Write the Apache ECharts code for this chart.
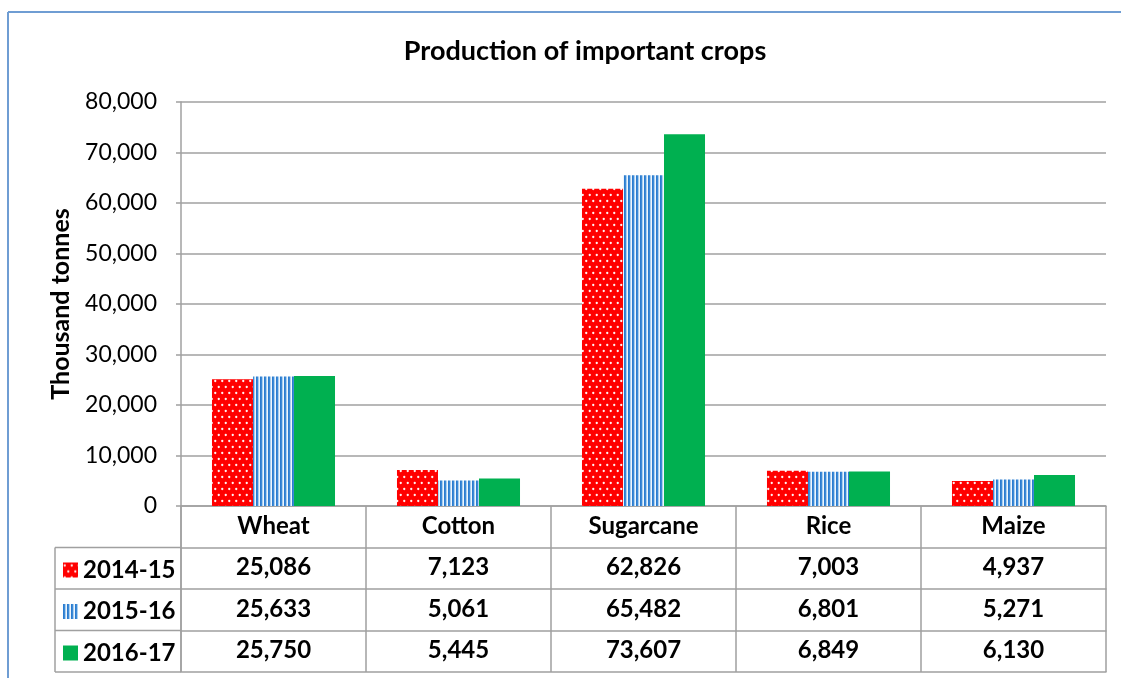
<!DOCTYPE html>
<html>
<head>
<meta charset="utf-8">
<script src="https://cdn.jsdelivr.net/npm/echarts@6/dist/echarts.min.js"></script>
<style>
  html, body { margin: 0; padding: 0; background: #fff; }
  #main { width: 1121px; height: 678px; }
</style>
</head>
<body>
<div id="main"></div>
<script>
// data
const categories = ['Wheat', 'Cotton', 'Sugarcane', 'Rice', 'Maize']
const years = ['2014-15', '2015-16', '2016-17']
const v2014 = [25086, 7123, 62826, 7003, 4937]
const v2015 = [25633, 5061, 65482, 6801, 5271]
const v2016 = [25750, 5445, 73607, 6849, 6130]
const yTicks = [0, 80000, 10000] // min, max, step

const FONT = 'Lato, "Open Sans", sans-serif'
const LINE = '#a0a0a0'
const rowH = 41.5

const fmt = (n) => n.toLocaleString('en-US')

// red with white dots
function dotPattern() {
  const c = document.createElement('canvas')
  c.width = 7
  c.height = 12
  const ctx = c.getContext('2d')
  ctx.fillStyle = '#ff0000'
  ctx.fillRect(0, 0, 7, 12)
  ctx.fillStyle = 'rgba(255,255,255,0.95)'
  ctx.beginPath()
  ctx.arc(1.75, 3, 1.15, 0, Math.PI * 2)
  ctx.arc(5.25, 9, 1.15, 0, Math.PI * 2)
  ctx.fill()
  return c
}

// blue vertical stripes
function stripePattern() {
  const c = document.createElement('canvas')
  c.width = 4
  c.height = 4
  const ctx = c.getContext('2d')
  const cols = ['#2b7cd0', '#3d8ad6', '#a9cff0', '#eef5fc']
  cols.forEach((col, i) => {
    ctx.fillStyle = col
    ctx.fillRect(i, 0, 1, 4)
  })
  return c
}

const fills = [
  { image: dotPattern(), repeat: 'repeat' },
  { image: stripePattern(), repeat: 'repeat' },
  '#00b050'
]
const seriesData = [v2014, v2015, v2016]

const myChart = echarts.init(document.getElementById('main'))

// table rows drawn as extra x axes under the grid
const tableAxes = seriesData.map((vals, i) => ({
  type: 'category',
  data: categories,
  position: 'bottom',
  offset: rowH * (i + 1),
  axisLine: { show: true, lineStyle: { color: LINE, width: 1.5 } },
  axisTick: { show: true, length: rowH, inside: false, lineStyle: { color: LINE, width: 1.5 } },
  axisLabel: {
    margin: 8,
    fontSize: 24,
    fontWeight: 'bold',
    fontFamily: FONT,
    color: '#000',
    formatter: (v, idx) => fmt(vals[idx])
  },
  splitLine: { show: false }
}))

const option = {
  animation: false,
  backgroundColor: '#fff',
  title: {
    text: 'Production of important crops',
    left: 580,
    top: 33,
    textAlign: 'center',
    textStyle: { fontSize: 27, fontWeight: 'bold', fontFamily: FONT, color: '#000' }
  },
  grid: { left: 181, right: 15, top: 102, bottom: 172 },
  legend: {
    orient: 'vertical',
    left: 58,
    top: 553,
    itemWidth: 15,
    itemHeight: 15,
    itemGap: 17.5,
    icon: 'rect',
    selectedMode: false,
    textStyle: { fontSize: 24, fontWeight: 'bold', fontFamily: FONT, color: '#000', padding: [0, 0, 0, 0] },
    data: years
  },
  xAxis: [
    {
      type: 'category',
      data: categories,
      position: 'bottom',
      axisLine: { show: true, lineStyle: { color: LINE, width: 1.5 } },
      axisTick: { show: true, length: rowH, lineStyle: { color: LINE, width: 1.5 } },
      axisLabel: { margin: 8, fontSize: 24, fontWeight: 'bold', fontFamily: FONT, color: '#000' }
    },
    ...tableAxes,
    {
      type: 'category',
      data: categories,
      position: 'bottom',
      offset: rowH * 4,
      axisLine: { show: true, lineStyle: { color: LINE, width: 1.5 } },
      axisTick: { show: false },
      axisLabel: { show: false }
    }
  ],
  yAxis: {
    type: 'value',
    min: yTicks[0],
    max: yTicks[1],
    interval: yTicks[2],
    name: 'Thousand tonnes',
    nameLocation: 'middle',
    nameGap: 108,
    nameTextStyle: { fontSize: 25, fontWeight: 'bold', fontFamily: FONT, color: '#000' },
    axisLine: { show: true, lineStyle: { color: LINE, width: 1.5 } },
    axisTick: { show: true, length: 5, lineStyle: { color: LINE, width: 1.5 } },
    axisLabel: { fontSize: 23, fontFamily: FONT, color: '#000', margin: 24, formatter: (v) => fmt(v) },
    splitLine: { lineStyle: { color: LINE, width: 1.5 } }
  },
  series: years.map((y, i) => ({
    name: y,
    type: 'bar',
    data: seriesData[i],
    barGap: 0,
    barCategoryGap: '33.5%',
    itemStyle: { color: fills[i] }
  })),
  graphic: [
    // outer frame (top and left edges visible)
    { type: 'line', shape: { x1: 8, y1: 12, x2: 1121, y2: 12 }, style: { stroke: '#6f9dd3', lineWidth: 2 } },
    { type: 'line', shape: { x1: 8, y1: 12, x2: 8, y2: 678 }, style: { stroke: '#6f9dd3', lineWidth: 2 } },
    // legend column of the data table
    { type: 'line', shape: { x1: 55, y1: 506 + rowH, x2: 55, y2: 506 + rowH * 4 }, style: { stroke: LINE, lineWidth: 1.5 } },
    { type: 'line', shape: { x1: 181, y1: 506, x2: 181, y2: 506 + rowH * 4 }, style: { stroke: LINE, lineWidth: 1.5 } },
    ...[1, 2, 3, 4].map((k) => ({
      type: 'line',
      shape: { x1: 55, y1: 506 + rowH * k, x2: 181, y2: 506 + rowH * k },
      style: { stroke: LINE, lineWidth: 1.5 }
    }))
  ]
}

myChart.setOption(option)
window.addEventListener('resize', () => {
  myChart.resize()
})
</script>
</body>
</html>
